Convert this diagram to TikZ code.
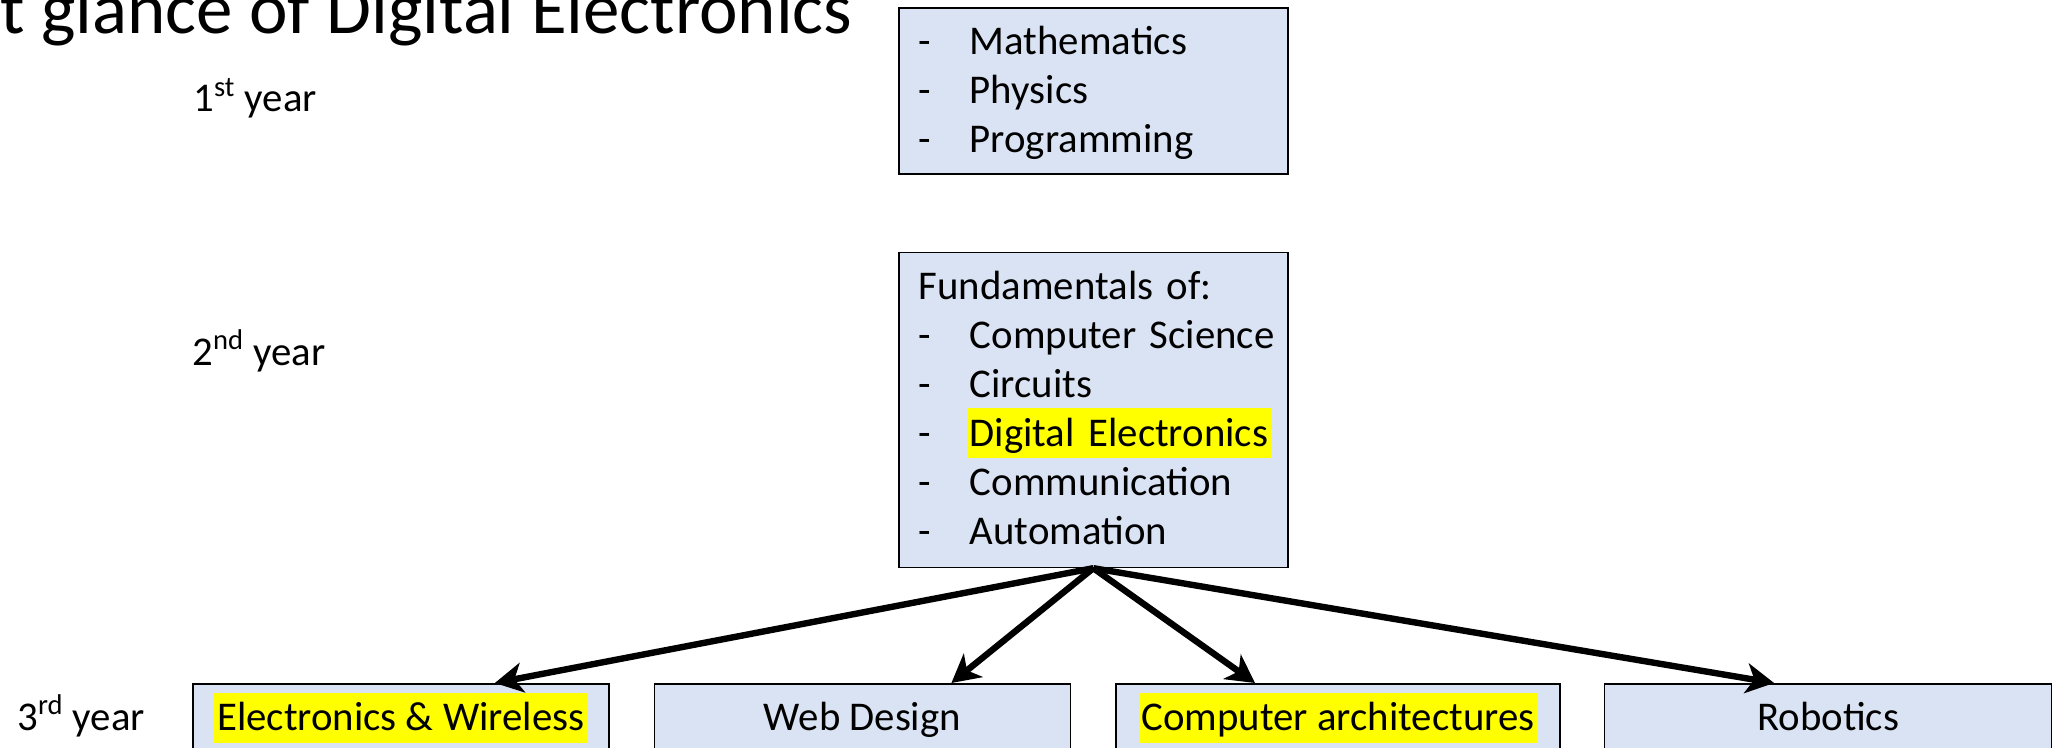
\documentclass[tikz,border=0pt]{standalone}
\usepackage{fontspec}
\setmainfont{Carlito}
\usepackage{tikz}
\usetikzlibrary{positioning,arrows.meta}

\definecolor{boxblue}{HTML}{DAE3F3}
\definecolor{markyellow}{HTML}{FFFF00}
\newcommand{\marked}[1]{{\setbox0=\hbox{#1}\makebox[0pt][l]{\hspace{-1.5pt}\textcolor{markyellow}{\rule[-6pt]{\dimexpr\wd0+3pt\relax}{25pt}}}\box0}}
\newcommand{\dashitem}[1]{\mbox{\makebox[25.5pt][l]{-}#1}}

\begin{document}
\begin{tikzpicture}[x=0.5pt, y=-0.5pt,
    every node/.style = {font=\fontsize{20.4pt}{24.5pt}\selectfont, inner sep=0pt},
    course/.style = {draw=black, line width=0.8pt, fill=boxblue},
    listbox/.style = {course, align=left, text width=174.5pt, inner xsep=10pt, text height=23.5pt},
    trackbox/.style = {course, text height=23.5pt, text depth=20pt},
    lead/.style = {line width=3.2pt, -{Stealth[length=14pt, width=15pt, inset=4pt]}}]
          \useasboundingbox (0,0) rectangle (2060,748);
          \clip (0,0) rectangle (2060,748);
          \node [font=\fontsize{36.5pt}{40pt}\selectfont, anchor=base east] (title) at (853,34) {t glance of Digital Electronics};
          \node [anchor=base west] (year1) at (193,112) {1\textsuperscript{st} year};
          \node [anchor=base west] (year2) at (192,365) {2\textsuperscript{nd} year};
          \node [anchor=base west] (year3) at (17,730) {3\textsuperscript{rd} year};
          \node [listbox, anchor=north west, text depth=59.5pt] (first) at (898,7)
            {\dashitem{Mathematics}\\ \dashitem{Physics}\\ \dashitem{Programming}};
          \node [listbox, below=38.5pt of first, text depth=134pt] (second)
            {\mbox{Fundamentals of:}\\ \dashitem{Computer Science}\\ \dashitem{Circuits}\\
             \dashitem{\marked{Digital Electronics}}\\ \dashitem{Communication}\\ \dashitem{Automation}};
          \node [trackbox, minimum width=208pt, anchor=north west] (wireless) at (192,683) {\marked{Electronics \& Wireless}};
          \node [trackbox, minimum width=208pt, right=22pt of wireless] (web) {Web Design};
          \node [trackbox, minimum width=222pt, right=22pt of web] (arch) {\marked{Computer architectures}};
          \node [trackbox, minimum width=223.5pt, right=21.5pt of arch] (robots) {Robotics};
          \draw [lead] (second.south) -- ([xshift=47pt]wireless.north);
          \draw [lead] (second.south) -- ([xshift=44.5pt]web.north);
          \draw [lead] (second.south) -- ([xshift=-41.5pt]arch.north);
          \draw [lead] (second.south) -- ([xshift=-27pt]robots.north);
        \end{tikzpicture}
\end{document}
